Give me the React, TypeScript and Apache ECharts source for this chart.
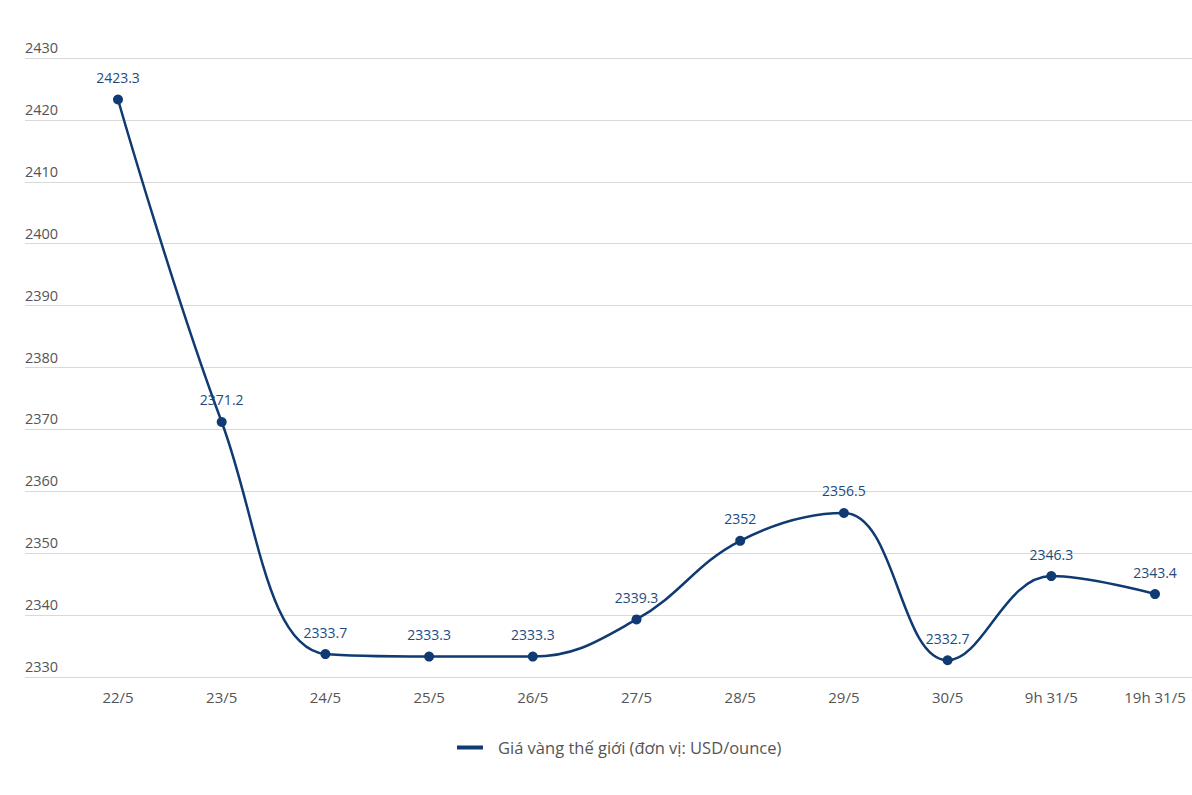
import React, { useEffect, useRef } from "react";
import * as echarts from "echarts";

const categories = ["22/5", "23/5", "24/5", "25/5", "26/5", "27/5", "28/5", "29/5", "30/5", "9h 31/5", "19h 31/5"];
const prices = [2423.3, 2371.2, 2333.7, 2333.3, 2333.3, 2339.3, 2352, 2356.5, 2332.7, 2346.3, 2343.4];
const seriesName = "Giá vàng thế giới (đơn vị: USD/ounce)";
const yMin = 2330;
const yMax = 2430;
const yStep = 10;

const FONT = "'Open Sans', 'Noto Sans', sans-serif";
const NAVY = "#0f3a72";

export default function App() {
  const ref = useRef<HTMLDivElement>(null);
  useEffect(() => {
    if (!ref.current) return;
    const chart = echarts.init(ref.current, undefined, { renderer: "svg" });
    chart.setOption({
      animation: false,
      backgroundColor: "#ffffff",
      textStyle: { fontFamily: FONT },
      grid: [
        { left: 25, right: 0, top: 58, bottom: 118 },
        { left: 118, right: 37, top: 58, bottom: 118 },
      ],
      legend: {
        top: 734,
        left: 452,
        data: [seriesName],
        icon: "rect",
        itemWidth: 26,
        itemHeight: 4,
        itemGap: 10,
        textStyle: { color: "#555", fontSize: 16.5, fontFamily: FONT, padding: [0, 0, 0, 10] },
      },
      xAxis: [
        { gridIndex: 0, type: "value", show: false, min: 0, max: 1 },
        {
          gridIndex: 1,
          type: "category",
          data: categories,
          boundaryGap: false,
          axisLine: { show: false },
          axisTick: { show: false },
          axisLabel: { color: "#555", fontSize: 15, margin: 12, fontFamily: FONT },
        },
      ],
      yAxis: [
        {
          gridIndex: 0,
          type: "value",
          min: yMin,
          max: yMax,
          interval: yStep,
          axisLine: { show: false },
          axisTick: { show: false },
          splitLine: { lineStyle: { color: "#d9d9d9", width: 1 } },
          axisLabel: {
            inside: true,
            align: "left",
            verticalAlign: "bottom",
            margin: 0,
            padding: [0, 0, 3, 0],
            color: "#555",
            fontSize: 14.5,
            fontFamily: FONT,
            formatter: (v: number) => String(v),
          },
        },
        { gridIndex: 1, type: "value", min: yMin, max: yMax, show: false, splitLine: { show: false } },
      ],
      series: [
        {
          name: seriesName,
          type: "line",
          xAxisIndex: 1,
          yAxisIndex: 1,
          data: prices,
          smooth: 0.4,
          symbol: "circle",
          symbolSize: 10,
          lineStyle: { color: NAVY, width: 2.5 },
          itemStyle: { color: NAVY },
          label: {
            show: true,
            position: "top",
            distance: 10,
            color: "#1f4a80",
            fontSize: 14,
            fontFamily: FONT,
          },
        },
      ],
    });
    return () => chart.dispose();
  }, []);
  return (
    <div
      ref={ref}
      style={{ position: "fixed", left: 0, top: 0, width: 1192, height: 795, background: "#fff" }}
    />
  );
}
